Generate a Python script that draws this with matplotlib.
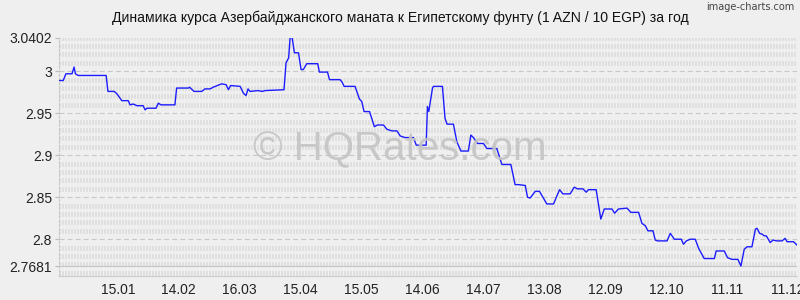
import numpy as np
import matplotlib
matplotlib.use("Agg")
import matplotlib.pyplot as plt
import datetime as dt

plt.rcParams['lines.scale_dashes'] = False
plt.rcParams['font.family'] = ['Liberation Sans', 'DejaVu Sans']

title = "Динамика курса Азербайджанского маната к Египетскому фунту (1 AZN / 10 EGP) за год"
start_date = dt.date(2022, 12, 17)

day_offsets = [0, 2.1, 3.4, 6.4, 7.4, 8.1, 9.4, 23.2, 24.1, 27.2, 28.6, 30.9, 34.1, 35.0, 36.5,
               38.4, 41.4, 42.4, 43.3, 47.8, 48.9, 50.2, 57.1, 57.9, 63.7, 64.3, 66.5, 70.3,
               71.9, 74.4, 75.9, 80.1, 82.3, 83.4, 84.5, 89.2, 90.8, 92.1, 93.1, 94.1, 98.0,
               100.0, 101.5, 110.8, 111.8, 113.1, 113.8, 114.8, 115.9, 117.9, 119.2, 120.3,
               122.0, 127.4, 128.2, 132.2, 133.2, 138.4, 139.4, 140.4, 145.8, 147.9, 149.1,
               150.2, 152.9, 155.3, 156.8, 159.8, 161.4, 163.9, 166.4, 168.0, 170.4, 174.5,
               175.9, 180.8, 181.4, 182.1, 183.9, 184.4, 188.8, 190.1, 191.1, 194.2, 195.9,
               197.9, 201.6, 202.8, 204.1, 206.1, 209.0, 210.7, 215.6, 218.1, 222.5, 224.6,
               226.3, 229.6, 230.7, 232.0, 234.5, 236.6, 240.2, 243.5, 246.5, 248.1, 251.7,
               253.7, 255.3, 258.0, 259.6, 260.7, 264.5, 266.8, 268.5, 272.3, 273.6, 275.5,
               279.7, 281.6, 285.4, 287.0, 288.7, 290.0, 292.5, 293.6, 294.7, 299.4, 301.0,
               303.0, 306.4, 307.5, 308.9, 310.8, 313.3, 315.0, 317.7, 322.7, 323.6, 327.6,
               329.2, 331.4, 334.3, 335.8, 337.4, 338.8, 341.2, 342.9, 343.7, 345.0, 346.2,
               347.3, 348.3, 350.2, 351.6, 353.5, 356.0, 357.6, 358.5, 361.7, 363.4]

rates = [2.989, 2.989, 2.997, 2.997, 3.005, 2.997, 2.995, 2.995, 2.976, 2.976, 2.973, 2.965,
         2.965, 2.960, 2.961, 2.959, 2.959, 2.954, 2.956, 2.956, 2.962, 2.960, 2.960, 2.980,
         2.980, 2.981, 2.976, 2.976, 2.979, 2.979, 2.981, 2.985, 2.984, 2.978, 2.983, 2.982,
         2.974, 2.971, 2.979, 2.976, 2.977, 2.976, 2.977, 2.978, 3.010, 3.016, 3.0402, 3.0402,
         3.022, 3.022, 3.002, 3.002, 3.009, 3.009, 2.999, 2.999, 2.990, 2.990, 2.987, 2.982,
         2.982, 2.967, 2.964, 2.952, 2.952, 2.934, 2.936, 2.936, 2.931, 2.929, 2.929, 2.923,
         2.921, 2.921, 2.912, 2.912, 2.958, 2.952, 2.980, 2.982, 2.982, 2.944, 2.937, 2.937,
         2.916, 2.905, 2.905, 2.924, 2.921, 2.914, 2.914, 2.908, 2.908, 2.889, 2.889, 2.865,
         2.865, 2.864, 2.850, 2.849, 2.857, 2.857, 2.842, 2.842, 2.859, 2.854, 2.854, 2.862,
         2.860, 2.860, 2.856, 2.859, 2.859, 2.824, 2.836, 2.836, 2.831, 2.836, 2.837, 2.832,
         2.832, 2.819, 2.816, 2.810, 2.810, 2.799, 2.798, 2.798, 2.807, 2.800, 2.800, 2.794,
         2.798, 2.800, 2.800, 2.789, 2.777, 2.777, 2.786, 2.786, 2.778, 2.776, 2.776, 2.7681,
         2.788, 2.791, 2.791, 2.812, 2.813, 2.807, 2.806, 2.804, 2.804, 2.796, 2.799, 2.798,
         2.798, 2.801, 2.797, 2.797, 2.793]

y_ticks = [2.7681, 2.8, 2.85, 2.9, 2.95, 3.0, 3.0402]
y_tick_labels = ["2.7681", "2.8", "2.85", "2.9", "2.95", "3", "3.0402"]
x_tick_dates = ["2023-01-15", "2023-02-14", "2023-03-16", "2023-04-15", "2023-05-15",
                "2023-06-14", "2023-07-14", "2023-08-13", "2023-09-12", "2023-10-12",
                "2023-11-11", "2023-12-11"]
x_tick_labels = ["15.01", "14.02", "16.03", "15.04", "15.05", "14.06", "14.07", "13.08",
                 "12.09", "12.10", "11.11", "11.12"]
watermark = "© HQRates.com"
credit = "image-charts.com"

W, H = 800, 300
bg = "#efefef"
fig = plt.figure(figsize=(W / 100, H / 100), dpi=100, facecolor=bg)
ax_l, ax_r, ax_t, ax_b = 59, 797, 37.5, 276
ax = fig.add_axes([ax_l / W, 1 - ax_b / H, (ax_r - ax_l) / W, (ax_b - ax_t) / H])
ax.set_facecolor(bg)

t0 = np.datetime64(start_date.isoformat())
x = np.array([(t0 + np.timedelta64(int(round(d * 24)), 'h')) for d in day_offsets], dtype='datetime64[h]')
xd = matplotlib.dates.date2num(x)
x0 = matplotlib.dates.date2num(np.datetime64(start_date.isoformat()))
ax.set_xlim(x0, x0 + 363.4)
y_lo, y_hi = 2.7562, 3.0402
ax.set_ylim(y_lo, y_hi)

# minor stroke rows every 0.01
minor = np.round(np.arange(2.76, 3.0451, 0.01), 2)
for m in minor:
    if abs(m * 100 % 5) < 1e-6 or abs(m * 100 % 5 - 5) < 1e-6:
        continue
    ax.axhline(m, color="#d0d0d0", lw=3.4, ls=(0, (0.72, 1.44)), solid_capstyle='butt',
               dash_capstyle='butt', zorder=1)
# major dashed rows
for m in [2.8, 2.85, 2.9, 2.95, 3.0]:
    ax.axhline(m, color="#c8c8c8", lw=0.8, ls=(0, (3.6, 2.2)), zorder=1.5)
ax.axhline(2.7681, color="#c4c4c4", lw=0.8, zorder=1.5)

for s in ['top', 'right']:
    ax.spines[s].set_visible(False)
ax.spines['left'].set_color("#c8c8c8")
ax.spines['left'].set_linestyle((0, (1.5, 1.5)))
ax.spines['left'].set_linewidth(0.8)
ax.spines['bottom'].set_color("#c8c8c8")
ax.spines['bottom'].set_linestyle((0, (1.0, 1.0)))
ax.spines['bottom'].set_linewidth(0.8)

fig.text(400 / W, 1 - 160 / H, watermark, fontsize=29, color="#c4c4c4", ha='center',
         va='baseline', zorder=2, alpha=0.9)

ax.plot(xd, rates, color="#1c1cff", lw=1.0, zorder=3)

ax.set_yticks(y_ticks)
ax.set_yticklabels(y_tick_labels)
xt = [matplotlib.dates.date2num(np.datetime64(d)) for d in x_tick_dates]
ax.set_xticks(xt)
ax.set_xticklabels(x_tick_labels)
ax.tick_params(axis='y', length=3, color="#bbbbbb", pad=2, labelsize=10, labelcolor="#222222")
ax.tick_params(axis='x', length=0, pad=5, labelsize=10, labelcolor="#222222")
for lbl in ax.get_xticklabels():
    lbl.set_clip_on(False)

fig.text(400 / W, 1 - 18 / H, title, fontsize=10.1, color="#111111", ha='center', va='center')
fig.text(794 / W, 1 - 7 / H, credit, fontsize=7, color="#444444", ha='right', va='center',
         family=['Liberation Sans Narrow', 'DejaVu Sans'])

fig.savefig("out.png", dpi=100, facecolor=bg)
